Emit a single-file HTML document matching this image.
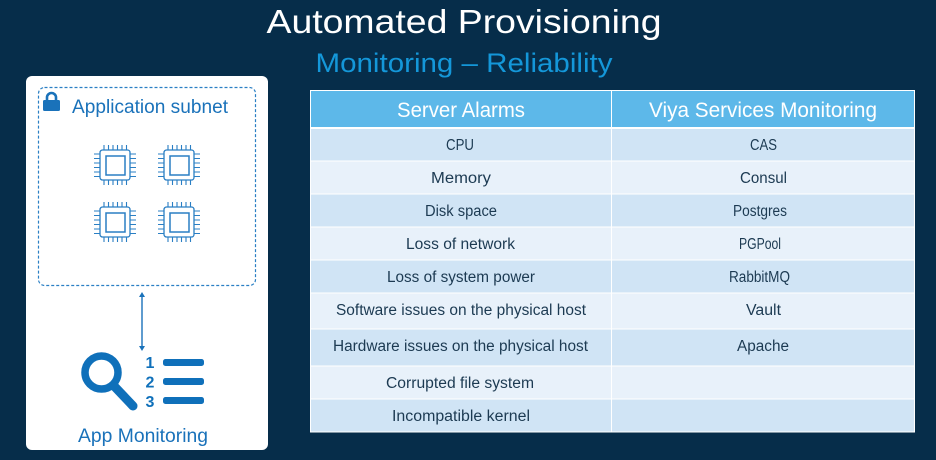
<!DOCTYPE html>
<html><head><meta charset="utf-8"><style>
html,body{margin:0;padding:0;background:#062d4a;}
svg{display:block;}
text{font-family:"Liberation Sans",sans-serif;}
</style></head><body>
<svg width="936" height="460" viewBox="0 0 936 460" xmlns="http://www.w3.org/2000/svg">
<rect x="0" y="0" width="936" height="460" fill="#062d4a"/>
<!-- Titles -->
<text x="464" y="33" text-anchor="middle" font-size="33" fill="#ffffff" textLength="395" lengthAdjust="spacingAndGlyphs">Automated Provisioning</text>
<text x="464" y="72" text-anchor="middle" font-size="27" fill="#1497d9" textLength="297" lengthAdjust="spacingAndGlyphs">Monitoring – Reliability</text>

<!-- Left panel -->
<rect x="26" y="76" width="242" height="374" rx="6" fill="#ffffff"/>
<rect x="38.5" y="87.5" width="217" height="198" rx="6" fill="none" stroke="#2a7fc4" stroke-width="1.2" stroke-dasharray="3,2"/>
<!-- lock -->
<path d="M47 101 v-3.5 a4.5 4.5 0 0 1 9 0 v3.5" fill="none" stroke="#1a72ba" stroke-width="2.6"/>
<rect x="43" y="100" width="17" height="11" rx="1.5" fill="#1a72ba"/>
<text x="72" y="113" font-size="19" fill="#1a72ba" textLength="156" lengthAdjust="spacingAndGlyphs">Application subnet</text>

<!-- chips -->
<defs>
<g id="chip" fill="none" stroke="#2a7fc4" stroke-width="1.3">
<rect x="0" y="0" width="30" height="30" rx="2.5"/>
<rect x="6" y="6" width="19" height="19" stroke-width="1.5"/>
<path d="M4 0v-5M8.5 0v-5M13 0v-5M17.5 0v-5M22 0v-5M26.5 0v-5
M4 30v5M8.5 30v5M13 30v5M17.5 30v5M22 30v5M26.5 30v5
M0 4h-6M0 8.5h-6M0 13h-6M0 17.5h-6M0 22h-6M0 26.5h-6
M30 4h6M30 8.5h6M30 13h6M30 17.5h6M30 22h6M30 26.5h6" stroke-width="1.1"/>
</g>
</defs>
<use href="#chip" x="100" y="150"/>
<use href="#chip" x="164" y="150"/>
<use href="#chip" x="100" y="207"/>
<use href="#chip" x="164" y="207"/>

<!-- arrow -->
<line x1="142" y1="295" x2="142" y2="348" stroke="#1a72ba" stroke-width="1.4"/>
<path d="M139 297 L142 292 L145 297 Z" fill="#1a72ba"/>
<path d="M139 346 L142 351 L145 346 Z" fill="#1a72ba"/>

<!-- magnifier -->
<circle cx="101.5" cy="372.5" r="16.5" fill="none" stroke="#0f70ba" stroke-width="7.5"/>
<line x1="115" y1="387" x2="133" y2="406" stroke="#0f70ba" stroke-width="9" stroke-linecap="round"/>
<text x="150" y="368" text-anchor="middle" font-size="16" font-weight="bold" fill="#0f70ba">1</text>
<text x="150" y="387.5" text-anchor="middle" font-size="16" font-weight="bold" fill="#0f70ba">2</text>
<text x="150" y="407" text-anchor="middle" font-size="16" font-weight="bold" fill="#0f70ba">3</text>
<rect x="163" y="359" width="41" height="7" rx="2.5" fill="#0f70ba"/>
<rect x="163" y="378" width="41" height="7" rx="2.5" fill="#0f70ba"/>
<rect x="163" y="397" width="41" height="7" rx="2.5" fill="#0f70ba"/>
<text x="143" y="442" text-anchor="middle" font-size="19" fill="#1a72ba" textLength="130" lengthAdjust="spacingAndGlyphs">App Monitoring</text>

<!-- Table -->
<rect x="310" y="90" width="605" height="38" fill="#5db8e9"/>
<rect x="310" y="128" width="605" height="33" fill="#d0e4f5"/>
<rect x="310" y="161" width="605" height="33" fill="#e8f1fa"/>
<rect x="310" y="194" width="605" height="33" fill="#d0e4f5"/>
<rect x="310" y="227" width="605" height="33" fill="#e8f1fa"/>
<rect x="310" y="260" width="605" height="33" fill="#d0e4f5"/>
<rect x="310" y="293" width="605" height="36" fill="#e8f1fa"/>
<rect x="310" y="329" width="605" height="37" fill="#d0e4f5"/>
<rect x="310" y="366" width="605" height="33" fill="#e8f1fa"/>
<rect x="310" y="399" width="605" height="33" fill="#d0e4f5"/>
<g stroke="#ffffff" stroke-width="1">
<line x1="310" y1="128" x2="915" y2="128" stroke-width="2"/>
<line x1="310" y1="161" x2="915" y2="161"/>
<line x1="310" y1="194" x2="915" y2="194"/>
<line x1="310" y1="227" x2="915" y2="227"/>
<line x1="310" y1="260" x2="915" y2="260"/>
<line x1="310" y1="293" x2="915" y2="293"/>
<line x1="310" y1="329" x2="915" y2="329"/>
<line x1="310" y1="366" x2="915" y2="366"/>
<line x1="310" y1="399" x2="915" y2="399"/>
<line x1="611.5" y1="90" x2="611.5" y2="432"/>
<rect x="310.5" y="90.5" width="604" height="341.5" fill="none"/>
</g>
<text x="461" y="117" text-anchor="middle" font-size="21" fill="#ffffff" textLength="128" lengthAdjust="spacingAndGlyphs">Server Alarms</text>
<text x="763" y="117" text-anchor="middle" font-size="21" fill="#ffffff" textLength="228" lengthAdjust="spacingAndGlyphs">Viya Services Monitoring</text>

<g font-size="15.5" fill="#1c3a52" text-anchor="middle">
<text x="460" y="150" textLength="28" lengthAdjust="spacingAndGlyphs">CPU</text>
<text x="461" y="183" textLength="60" lengthAdjust="spacingAndGlyphs">Memory</text>
<text x="461" y="216" textLength="72" lengthAdjust="spacingAndGlyphs">Disk space</text>
<text x="460.5" y="249" textLength="109" lengthAdjust="spacingAndGlyphs">Loss of network</text>
<text x="461" y="282" textLength="148" lengthAdjust="spacingAndGlyphs">Loss of system power</text>
<text x="461" y="315" textLength="250" lengthAdjust="spacingAndGlyphs">Software issues on the physical host</text>
<text x="460.5" y="351" textLength="255" lengthAdjust="spacingAndGlyphs">Hardware issues on the physical host</text>
<text x="460" y="388" textLength="148" lengthAdjust="spacingAndGlyphs">Corrupted file system</text>
<text x="461" y="421" textLength="138" lengthAdjust="spacingAndGlyphs">Incompatible kernel</text>

<text x="763.5" y="150" textLength="27" lengthAdjust="spacingAndGlyphs">CAS</text>
<text x="763.5" y="183" textLength="47" lengthAdjust="spacingAndGlyphs">Consul</text>
<text x="760" y="216" textLength="54" lengthAdjust="spacingAndGlyphs">Postgres</text>
<text x="760" y="249" textLength="42" lengthAdjust="spacingAndGlyphs">PGPool</text>
<text x="759.5" y="282" textLength="61" lengthAdjust="spacingAndGlyphs">RabbitMQ</text>
<text x="763.5" y="315" textLength="35" lengthAdjust="spacingAndGlyphs">Vault</text>
<text x="763" y="351" textLength="52" lengthAdjust="spacingAndGlyphs">Apache</text>
</g>
</svg>
</body></html>
